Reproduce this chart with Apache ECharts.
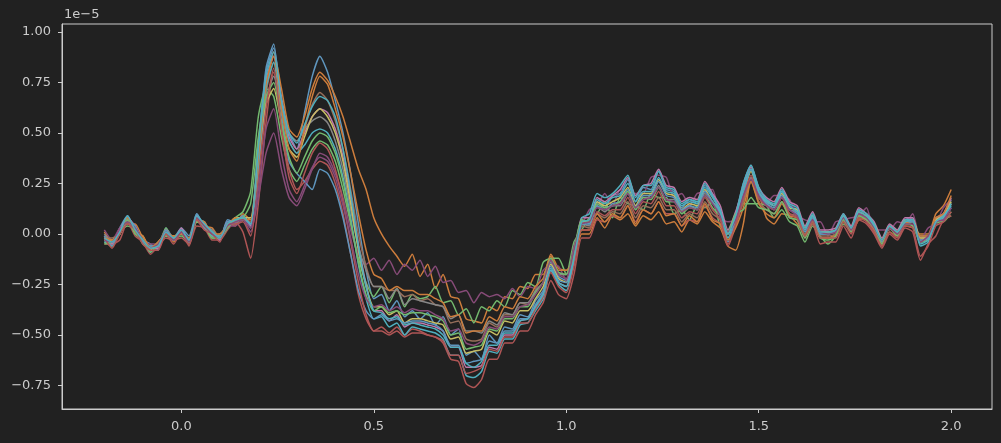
<!DOCTYPE html>
<html>
<head>
<meta charset="utf-8">
<script src="https://cdn.jsdelivr.net/npm/echarts@6/dist/echarts.min.js"></script>
<style>
html,body{margin:0;padding:0;background:#212121;}
#c{width:1001px;height:443px;}
</style>
</head>
<body>
<div id="c"></div>
<script>
// Time axis (seconds)
const times = [
-0.20,-0.18,-0.16,-0.14,-0.12,-0.10,-0.08,-0.06,-0.04,-0.02,
0.00,0.02,0.04,0.06,0.08,0.10,0.12,0.14,0.16,0.18,
0.20,0.22,0.24,0.26,0.28,0.30,0.32,0.34,0.36,0.38,
0.40,0.42,0.44,0.46,0.48,0.50,0.52,0.54,0.56,0.58,
0.60,0.62,0.64,0.66,0.68,0.70,0.72,0.74,0.76,0.78,
0.80,0.82,0.84,0.86,0.88,0.90,0.92,0.94,0.96,0.98,
1.00,1.02,1.04,1.06,1.08,1.10,1.12,1.14,1.16,1.18,
1.20,1.22,1.24,1.26,1.28,1.30,1.32,1.34,1.36,1.38,
1.40,1.42,1.44,1.46,1.48,1.50,1.52,1.54,1.56,1.58,
1.60,1.62,1.64,1.66,1.68,1.70,1.72,1.74,1.76,1.78,
1.80,1.82,1.84,1.86,1.88,1.90,1.92,1.94,1.96,1.98,
2.00];

// Channel values in units of 1e-5
const ch1 = [
-0.03,-0.05,0.03,0.09,0.02,-0.03,-0.05,-0.08,0.03,-0.02,
0.03,-0.01,0.10,0.04,0.02,-0.03,0.07,0.06,0.09,0.05,
0.45,0.80,0.92,0.68,0.50,0.42,0.60,0.78,0.88,0.80,
0.66,0.50,0.30,0.05,-0.18,-0.32,-0.30,-0.38,-0.33,-0.41,
-0.38,-0.42,-0.39,-0.45,-0.41,-0.50,-0.47,-0.60,-0.58,-0.62,
-0.50,-0.54,-0.46,-0.47,-0.40,-0.41,-0.33,-0.28,-0.14,-0.21,
-0.23,-0.10,0.07,0.05,0.16,0.13,0.19,0.20,0.27,0.16,
0.23,0.22,0.31,0.22,0.21,0.13,0.17,0.15,0.24,0.19,
0.12,0.00,0.10,0.25,0.34,0.22,0.17,0.14,0.21,0.14,
0.12,0.03,0.09,0.00,0.00,0.02,0.09,0.03,0.12,0.10,
0.05,-0.04,0.04,0.01,0.07,0.08,-0.03,-0.02,0.08,0.10,
0.17];
const ch2 = [
0.01,-0.04,0.02,0.05,0.05,-0.02,-0.06,-0.05,0.02,-0.04,
0.01,-0.05,0.09,0.04,0.03,-0.02,0.05,0.04,0.10,0.07,
0.30,0.70,0.90,0.72,0.52,0.48,0.58,0.72,0.80,0.76,
0.68,0.58,0.45,0.32,0.22,0.08,0.00,-0.06,-0.11,-0.16,
-0.10,-0.21,-0.15,-0.27,-0.20,-0.31,-0.32,-0.42,-0.43,-0.44,
-0.36,-0.38,-0.31,-0.32,-0.26,-0.27,-0.20,-0.20,-0.10,-0.17,
-0.18,-0.14,0.00,0.00,0.08,0.03,0.09,0.07,0.10,0.04,
0.09,0.07,0.11,0.05,0.06,0.01,0.07,0.05,0.11,0.06,
0.03,-0.06,-0.08,0.05,0.26,0.20,0.08,0.05,0.10,0.09,
0.05,0.00,0.05,-0.02,-0.02,0.00,0.06,0.01,0.07,0.08,
0.01,-0.06,0.01,-0.01,0.04,0.03,0.00,0.00,0.10,0.14,
0.22];
const ch3 = [
-0.04,-0.06,0.01,0.04,0.02,-0.05,-0.07,-0.06,0.03,-0.03,
0.02,-0.05,0.06,0.04,-0.02,-0.02,0.03,0.08,0.11,0.21,
0.58,0.72,0.68,0.48,0.32,0.26,0.34,0.42,0.46,0.44,
0.36,0.22,0.05,-0.12,-0.24,-0.31,-0.26,-0.34,-0.27,-0.36,
-0.30,-0.32,-0.31,-0.26,-0.34,-0.33,-0.40,-0.37,-0.44,-0.36,
-0.38,-0.33,-0.36,-0.28,-0.30,-0.24,-0.26,-0.14,-0.12,-0.12,
-0.20,-0.04,0.02,0.08,0.10,0.16,0.08,0.18,0.15,0.14,
0.12,0.20,0.18,0.18,0.10,0.12,0.07,0.14,0.13,0.16,
0.04,0.02,0.05,0.15,0.15,0.15,0.14,0.08,0.12,0.06,
0.04,-0.04,0.04,-0.01,-0.05,-0.01,0.05,0.02,0.09,0.09,
0.03,-0.03,0.03,0.01,0.05,0.06,-0.03,-0.01,0.05,0.07,
0.09];
const ch4 = [
-0.05,-0.05,-0.03,0.06,-0.01,-0.04,-0.10,-0.06,-0.02,-0.03,
-0.02,-0.05,0.04,0.03,-0.03,-0.03,0.02,0.06,0.01,-0.12,
0.15,0.55,0.80,0.55,0.32,0.22,0.26,0.32,0.36,0.34,
0.25,0.10,-0.10,-0.30,-0.42,-0.48,-0.46,-0.49,-0.46,-0.50,
-0.47,-0.48,-0.50,-0.51,-0.54,-0.62,-0.63,-0.74,-0.76,-0.72,
-0.62,-0.62,-0.54,-0.54,-0.48,-0.48,-0.40,-0.34,-0.23,-0.30,
-0.32,-0.20,-0.02,-0.02,0.07,0.06,0.09,0.08,0.14,0.06,
0.12,0.10,0.16,0.10,0.10,0.04,0.07,0.06,0.14,0.08,
0.05,-0.06,0.04,0.16,0.28,0.16,0.12,0.10,0.16,0.08,
0.07,-0.02,0.05,-0.05,-0.04,-0.04,0.04,-0.02,0.07,0.05,
0.00,-0.07,0.00,-0.03,0.03,0.01,-0.13,-0.05,-0.01,0.07,
0.09];
const ch5 = [
0.02,-0.03,0.03,0.06,0.04,-0.03,-0.05,-0.05,0.02,-0.02,
0.02,-0.04,0.07,0.02,0.01,-0.03,0.04,0.04,0.07,0.01,
0.18,0.40,0.50,0.32,0.18,0.14,0.22,0.32,0.40,0.38,
0.30,0.18,0.02,-0.10,-0.15,-0.12,-0.18,-0.13,-0.20,-0.15,
-0.18,-0.13,-0.21,-0.16,-0.24,-0.23,-0.29,-0.28,-0.34,-0.29,
-0.31,-0.30,-0.32,-0.27,-0.31,-0.26,-0.27,-0.18,-0.15,-0.16,
-0.23,-0.06,0.04,0.12,0.14,0.20,0.14,0.22,0.20,0.20,
0.20,0.28,0.29,0.28,0.18,0.20,0.14,0.20,0.21,0.22,
0.08,0.06,0.07,0.24,0.27,0.23,0.15,0.19,0.19,0.17,
0.09,0.07,0.06,0.06,-0.01,0.06,0.07,0.08,0.09,0.13,
0.02,0.02,0.02,0.06,0.05,0.10,-0.03,0.03,0.05,0.13,
0.17];
const ch6 = [
-0.02,-0.02,0.00,0.07,0.01,-0.02,-0.07,-0.04,-0.01,-0.01,
0.00,-0.02,0.07,0.05,-0.01,0.00,0.04,0.07,0.07,0.06,
0.35,0.70,0.85,0.62,0.46,0.40,0.52,0.64,0.70,0.66,
0.56,0.42,0.22,0.00,-0.16,-0.26,-0.26,-0.28,-0.28,-0.31,
-0.30,-0.33,-0.32,-0.35,-0.36,-0.44,-0.43,-0.52,-0.53,-0.52,
-0.44,-0.46,-0.40,-0.40,-0.34,-0.35,-0.28,-0.24,-0.13,-0.20,
-0.20,-0.10,0.04,0.03,0.10,0.08,0.11,0.10,0.16,0.08,
0.14,0.13,0.18,0.12,0.12,0.06,0.10,0.08,0.16,0.10,
0.07,-0.02,0.06,0.16,0.26,0.16,0.12,0.10,0.16,0.10,
0.09,0.00,0.07,-0.01,-0.01,0.00,0.07,0.02,0.09,0.08,
0.03,-0.04,0.03,0.00,0.06,0.04,-0.02,-0.01,0.07,0.08,
0.15];
const ch7 = [
-0.01,-0.05,0.02,0.08,0.04,-0.04,-0.07,-0.07,0.02,-0.03,
0.03,-0.04,0.09,0.03,0.01,-0.03,0.06,0.06,0.09,0.04,
0.40,0.76,0.88,0.66,0.48,0.42,0.50,0.58,0.62,0.60,
0.52,0.38,0.18,-0.05,-0.25,-0.38,-0.38,-0.43,-0.40,-0.46,
-0.44,-0.44,-0.45,-0.46,-0.48,-0.56,-0.56,-0.66,-0.66,-0.65,
-0.56,-0.57,-0.50,-0.50,-0.43,-0.42,-0.36,-0.30,-0.18,-0.24,
-0.26,-0.12,0.08,0.08,0.18,0.16,0.19,0.22,0.28,0.19,
0.24,0.25,0.32,0.24,0.23,0.16,0.18,0.17,0.26,0.20,
0.14,0.02,0.11,0.23,0.33,0.23,0.18,0.16,0.23,0.16,
0.14,0.04,0.11,0.02,0.02,0.03,0.10,0.04,0.13,0.10,
0.06,-0.02,0.05,0.02,0.08,0.08,-0.04,-0.02,0.07,0.10,
0.18];
const ch8 = [
0.00,-0.04,0.01,0.06,0.03,-0.04,-0.06,-0.06,0.01,-0.03,
0.01,-0.04,0.08,0.03,0.02,-0.02,0.05,0.05,0.08,0.05,
0.36,0.66,0.78,0.62,0.50,0.46,0.52,0.56,0.58,0.55,
0.46,0.32,0.12,-0.06,-0.18,-0.26,-0.26,-0.32,-0.27,-0.35,
-0.32,-0.33,-0.34,-0.35,-0.36,-0.42,-0.40,-0.48,-0.48,-0.49,
-0.43,-0.45,-0.39,-0.40,-0.34,-0.34,-0.28,-0.24,-0.13,-0.20,
-0.20,-0.10,0.05,0.04,0.14,0.11,0.14,0.14,0.20,0.12,
0.18,0.18,0.24,0.17,0.17,0.11,0.14,0.12,0.20,0.15,
0.10,0.00,0.08,0.18,0.28,0.18,0.15,0.12,0.18,0.12,
0.11,0.02,0.08,0.01,0.01,0.01,0.08,0.02,0.10,0.08,
0.04,-0.03,0.04,0.01,0.06,0.06,-0.01,-0.01,0.07,0.08,
0.15];
const ch9 = [
-0.03,-0.03,0.00,0.07,0.01,-0.01,-0.08,-0.04,0.00,-0.01,
0.00,-0.03,0.06,0.05,-0.01,-0.01,0.04,0.08,0.08,0.08,
0.38,0.64,0.72,0.55,0.42,0.38,0.48,0.58,0.62,0.58,
0.50,0.36,0.15,-0.08,-0.26,-0.36,-0.36,-0.40,-0.38,-0.44,
-0.42,-0.42,-0.43,-0.44,-0.45,-0.52,-0.51,-0.59,-0.58,-0.57,
-0.48,-0.50,-0.43,-0.44,-0.38,-0.38,-0.32,-0.26,-0.15,-0.22,
-0.24,-0.12,0.06,0.06,0.16,0.14,0.16,0.18,0.23,0.14,
0.20,0.20,0.27,0.20,0.19,0.12,0.15,0.14,0.22,0.16,
0.11,0.00,0.09,0.20,0.31,0.20,0.16,0.14,0.20,0.13,
0.12,0.03,0.09,0.01,0.01,0.02,0.09,0.03,0.11,0.09,
0.05,-0.03,0.04,0.01,0.07,0.07,-0.02,-0.02,0.07,0.09,
0.16];
const ch10 = [
-0.04,-0.04,0.00,0.08,0.01,-0.03,-0.09,-0.05,-0.01,-0.02,
0.00,-0.03,0.07,0.06,-0.01,-0.01,0.03,0.07,0.07,0.05,
0.34,0.72,0.85,0.62,0.46,0.40,0.44,0.50,0.52,0.50,
0.42,0.28,0.08,-0.15,-0.32,-0.42,-0.41,-0.46,-0.44,-0.50,
-0.46,-0.47,-0.48,-0.49,-0.52,-0.60,-0.60,-0.70,-0.71,-0.68,
-0.58,-0.59,-0.52,-0.52,-0.45,-0.44,-0.38,-0.32,-0.18,-0.25,
-0.28,-0.14,0.08,0.10,0.20,0.18,0.20,0.24,0.29,0.18,
0.24,0.24,0.31,0.23,0.22,0.15,0.17,0.16,0.25,0.19,
0.12,-0.02,0.09,0.25,0.34,0.23,0.17,0.15,0.22,0.15,
0.13,0.03,0.10,0.01,0.00,0.02,0.10,0.03,0.12,0.10,
0.05,-0.04,0.04,0.01,0.07,0.07,-0.06,-0.04,0.06,0.08,
0.15];
const ch11 = [
-0.01,-0.06,0.01,0.07,0.04,-0.04,-0.06,-0.06,0.02,-0.03,
0.02,-0.04,0.10,0.03,0.01,-0.02,0.06,0.06,0.09,0.03,
0.42,0.82,0.94,0.60,0.36,0.30,0.26,0.22,0.32,0.30,
0.22,0.08,-0.10,-0.28,-0.38,-0.42,-0.40,-0.43,-0.42,-0.44,
-0.43,-0.43,-0.44,-0.45,-0.48,-0.55,-0.55,-0.64,-0.63,-0.62,
-0.53,-0.54,-0.48,-0.48,-0.42,-0.42,-0.35,-0.29,-0.16,-0.23,
-0.24,-0.12,0.05,0.05,0.14,0.12,0.15,0.16,0.22,0.13,
0.19,0.19,0.26,0.19,0.18,0.12,0.14,0.13,0.21,0.16,
0.10,-0.04,0.07,0.20,0.32,0.20,0.15,0.13,0.19,0.12,
0.10,0.01,0.08,0.00,0.00,0.01,0.08,0.02,0.10,0.08,
0.04,-0.04,0.03,0.00,0.06,0.06,-0.03,-0.02,0.06,0.07,
0.13];
const ch12 = [
-0.02,-0.03,0.00,0.08,0.01,-0.01,-0.07,-0.04,0.00,-0.01,
0.00,-0.02,0.07,0.06,0.00,0.00,0.04,0.08,0.07,0.07,
0.38,0.74,0.88,0.62,0.42,0.36,0.52,0.68,0.78,0.74,
0.62,0.48,0.30,0.10,-0.08,-0.20,-0.22,-0.28,-0.26,-0.28,
-0.28,-0.30,-0.30,-0.32,-0.34,-0.41,-0.40,-0.49,-0.48,-0.48,
-0.41,-0.43,-0.36,-0.37,-0.31,-0.32,-0.26,-0.22,-0.11,-0.18,
-0.18,-0.12,0.02,0.02,0.10,0.06,0.10,0.08,0.14,0.05,
0.12,0.10,0.16,0.09,0.10,0.04,0.09,0.06,0.15,0.07,
0.05,-0.03,0.03,0.13,0.26,0.15,0.10,0.08,0.15,0.09,
0.08,-0.01,0.06,-0.02,-0.02,-0.01,0.06,0.01,0.08,0.07,
0.02,-0.05,0.03,0.00,0.06,0.04,-0.01,-0.01,0.08,0.10,
0.19];
const ch13 = [
-0.05,-0.04,0.00,0.07,0.00,-0.03,-0.09,-0.05,-0.01,-0.02,
-0.01,-0.04,0.06,0.04,-0.02,-0.02,0.03,0.07,0.08,0.15,
0.48,0.68,0.75,0.55,0.38,0.30,0.38,0.46,0.50,0.48,
0.40,0.26,0.06,-0.14,-0.30,-0.38,-0.36,-0.39,-0.38,-0.40,
-0.39,-0.39,-0.40,-0.41,-0.43,-0.50,-0.49,-0.57,-0.56,-0.55,
-0.47,-0.48,-0.42,-0.42,-0.36,-0.36,-0.29,-0.24,-0.12,-0.19,
-0.20,-0.08,0.07,0.06,0.15,0.13,0.14,0.16,0.21,0.12,
0.18,0.17,0.23,0.16,0.16,0.10,0.13,0.12,0.19,0.13,
0.09,0.01,0.10,0.12,0.18,0.13,0.12,0.10,0.16,0.08,
0.07,-0.02,0.06,-0.02,-0.03,-0.01,0.07,0.01,0.09,0.07,
0.03,-0.05,0.03,-0.01,0.05,0.04,-0.04,-0.03,0.06,0.06,
0.11];
const ch14 = [
-0.02,-0.07,0.00,0.05,0.02,-0.05,-0.08,-0.08,0.00,-0.05,
0.01,-0.06,0.07,0.02,0.00,-0.04,0.05,0.05,0.06,-0.01,
0.26,0.62,0.82,0.52,0.28,0.20,0.30,0.40,0.45,0.42,
0.32,0.16,-0.04,-0.24,-0.40,-0.48,-0.48,-0.50,-0.48,-0.51,
-0.49,-0.49,-0.50,-0.51,-0.53,-0.60,-0.60,-0.69,-0.68,-0.66,
-0.57,-0.58,-0.51,-0.51,-0.44,-0.44,-0.37,-0.31,-0.19,-0.26,
-0.29,-0.16,0.02,0.02,0.11,0.09,0.12,0.12,0.18,0.10,
0.16,0.15,0.21,0.14,0.14,0.08,0.11,0.10,0.18,0.12,
0.07,-0.05,0.05,0.18,0.29,0.18,0.14,0.12,0.18,0.10,
0.08,-0.01,0.06,-0.02,-0.02,-0.02,0.06,0.00,0.08,0.06,
0.01,-0.06,0.01,-0.02,0.04,0.03,-0.11,-0.06,0.04,0.06,
0.11];
const ch15 = [
-0.03,-0.04,0.02,0.06,0.03,-0.03,-0.07,-0.05,0.01,-0.03,
0.01,-0.04,0.08,0.04,0.00,-0.02,0.04,0.06,0.07,0.03,
0.22,0.52,0.62,0.40,0.22,0.16,0.24,0.33,0.38,0.36,
0.28,0.14,-0.02,-0.20,-0.32,-0.36,-0.35,-0.38,-0.36,-0.39,
-0.37,-0.38,-0.38,-0.40,-0.42,-0.48,-0.47,-0.54,-0.55,-0.53,
-0.46,-0.47,-0.41,-0.41,-0.36,-0.35,-0.30,-0.24,-0.13,-0.20,
-0.22,-0.08,0.05,0.06,0.13,0.12,0.14,0.15,0.20,0.13,
0.17,0.18,0.23,0.17,0.16,0.11,0.13,0.12,0.19,0.15,
0.09,0.01,0.07,0.19,0.27,0.19,0.14,0.12,0.18,0.12,
0.09,0.02,0.07,0.01,0.00,0.01,0.08,0.02,0.10,0.08,
0.03,-0.03,0.03,0.00,0.05,0.05,-0.04,-0.01,0.06,0.07,
0.13];
const ch16 = [
-0.02,-0.04,0.01,0.09,0.02,-0.03,-0.07,-0.06,0.01,-0.02,
0.02,-0.03,0.09,0.05,0.01,-0.02,0.05,0.07,0.08,0.05,
0.42,0.78,0.90,0.66,0.50,0.45,0.54,0.63,0.68,0.66,
0.58,0.42,0.20,-0.06,-0.26,-0.38,-0.39,-0.42,-0.41,-0.45,
-0.44,-0.45,-0.46,-0.47,-0.50,-0.56,-0.56,-0.64,-0.66,-0.63,
-0.55,-0.55,-0.49,-0.49,-0.43,-0.42,-0.36,-0.30,-0.17,-0.24,
-0.26,-0.12,0.06,0.07,0.17,0.15,0.18,0.19,0.25,0.16,
0.21,0.21,0.28,0.21,0.20,0.14,0.16,0.15,0.23,0.18,
0.11,0.00,0.09,0.22,0.32,0.21,0.16,0.14,0.21,0.14,
0.11,0.02,0.09,0.01,0.01,0.02,0.09,0.03,0.11,0.09,
0.04,-0.03,0.04,0.01,0.06,0.07,-0.05,-0.03,0.06,0.09,
0.14];

const channels = [ch1,ch2,ch3,ch4,ch5,ch6,ch7,ch8,ch9,ch10,ch11,ch12,ch13,ch14,ch15,ch16];
const palette = ['#5f96be','#cd7d3c','#73b96e','#af5555','#874b78','#966e5a','#be78aa','#878787',
                 '#c8be64','#50afbe','#5f96be','#cd7d3c','#73b96e','#af5555','#874b78','#50afbe'];

const xTicks = [0, 0.5, 1.0, 1.5, 2.0];
const yTicks = [-0.75, -0.5, -0.25, 0, 0.25, 0.5, 0.75, 1.0];

const chart = echarts.init(document.getElementById('c'), null, {renderer: 'canvas'});
const FONT = 'DejaVu Sans';
const TXT = '#cccccc';
const EDGE = '#cccccc';

function fmtX(v){ const s = v.toFixed(1); return v < 0 ? '\u2212' + s.slice(1) : s; }
function fmtY(v){ const s = v.toFixed(2); return v < 0 ? '\u2212' + s.slice(1) : s; }

chart.setOption({
  animation: false,
  backgroundColor: '#212121',
  grid: {left: 62, right: 9, top: 24, bottom: 34, show: true, borderColor: EDGE, borderWidth: 1, backgroundColor: 'transparent'},
  graphic: [{type: 'text', left: 64, top: 8, style: {text: '1e\u22125', fill: TXT, font: '13px "DejaVu Sans"'}}],
  xAxis: {
    type: 'value', min: -0.31, max: 2.106,
    axisLine: {show: true, onZero: false, lineStyle: {color: EDGE, width: 1}},
    splitLine: {show: false},
    axisTick: {show: true, inside: false, length: 4, lineStyle: {color: EDGE, width: 1}, customValues: xTicks},
    axisLabel: {color: TXT, fontFamily: FONT, fontSize: 13, margin: 11, customValues: xTicks, formatter: fmtX}
  },
  yAxis: {
    type: 'value', min: -0.866, max: 1.039,
    axisLine: {show: true, onZero: false, lineStyle: {color: EDGE, width: 1}},
    splitLine: {show: false},
    axisTick: {show: true, inside: false, length: 4, lineStyle: {color: EDGE, width: 1}, customValues: yTicks},
    axisLabel: {color: TXT, fontFamily: FONT, fontSize: 13, margin: 11, customValues: yTicks, formatter: fmtY}
  },
  series: channels.map((ch, k) => ({
    type: 'line',
    data: ch.map((v, i) => [times[i], v]),
    showSymbol: false,
    smooth: 0.2,
    lineStyle: {width: 1.5, color: palette[k]},
    itemStyle: {color: palette[k]},
    emphasis: {disabled: true},
    silent: true
  }))
});
</script>
</body>
</html>
